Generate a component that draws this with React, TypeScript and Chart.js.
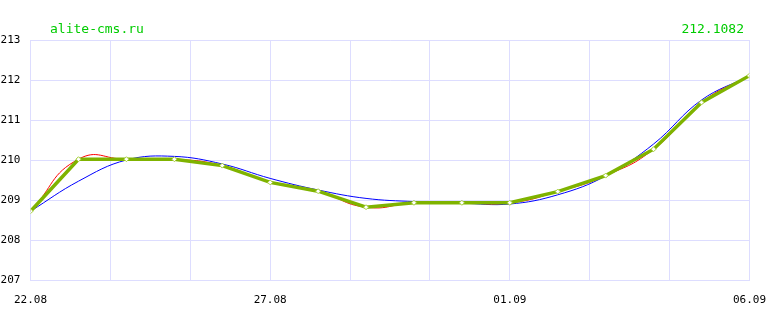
import React, { useEffect, useRef } from "react";
import { Chart, registerables } from "chart.js";

Chart.register(...registerables);

const dayLabels = ["22.08","23.08","24.08","25.08","26.08","27.08","28.08","29.08","30.08","31.08","01.09","02.09","03.09","04.09","05.09","06.09"];
const rateValues = [208.72, 210.02, 210.02, 210.02, 209.86, 209.44, 209.22, 208.82, 208.93, 208.93, 208.93, 209.21, 209.61, 210.27, 211.44, 212.1082];
const smoothValues = [208.72, 209.47, 210.0, 210.09, 209.9, 209.54, 209.25, 209.04, 208.96, 208.92, 208.9, 209.13, 209.6, 210.4, 211.5, 212.1];
const yTicks = [207, 208, 209, 210, 211, 212, 213];
const siteTitle = "alite-cms.ru";
const lastValue = "212.1082";

export default function App() {
  const ref = useRef<HTMLCanvasElement | null>(null);
  useEffect(() => {
    if (!ref.current) return;
    const pts = (vals: number[]) => vals.map((v, i) => ({ x: i, y: v }));
    const textPlugin = {
      id: "headerText",
      afterDraw(chart: any) {
        const ctx = chart.ctx;
        ctx.save();
        ctx.font = "13px 'DejaVu Sans Mono'";
        ctx.fillStyle = "#00cc00";
        ctx.textBaseline = "alphabetic";
        ctx.textAlign = "left";
        ctx.fillText(siteTitle, 50, 33);
        ctx.textAlign = "right";
        ctx.fillText(lastValue, 744, 33);
        ctx.restore();
      },
    };
    const chart = new Chart(ref.current, {
      type: "line",
      data: {
        datasets: [
          {
            label: "rate",
            data: pts(rateValues),
            borderColor: "#7fb300",
            borderWidth: 3.5,
            tension: 0,
            pointStyle: "rectRot",
            pointRadius: 2.5,
            pointBackgroundColor: "#ffffff",
            pointBorderColor: "#a8d040",
            pointBorderWidth: 1,
            order: 0,
          },
          {
            label: "spline",
            data: pts(rateValues),
            borderColor: "#ff0000",
            borderWidth: 1,
            tension: 0.5,
            pointRadius: 0,
            order: 1,
          },
          {
            label: "smooth",
            data: pts(smoothValues),
            borderColor: "#0000ff",
            borderWidth: 1,
            tension: 0.4,
            pointRadius: 0,
            order: 2,
          },
        ],
      },
      options: {
        animation: false,
        responsive: false,
        maintainAspectRatio: false,
        layout: { padding: { top: 40, right: 30, left: 0, bottom: 0 } },
        plugins: { legend: { display: false }, tooltip: { enabled: false } },
        scales: {
          x: {
            type: "linear",
            min: 0,
            max: 15,
            afterBuildTicks: (scale: any) => {
              const t = [];
              for (let i = 0; i <= 9; i++) t.push({ value: (i * 5) / 3 });
              scale.ticks = t;
            },
            afterFit: (scale: any) => {
              scale.height = 40;
            },
            grid: { color: "#ddddff", lineWidth: 1, drawTicks: false },
            border: { color: "#ddddff" },
            ticks: {
              autoSkip: false,
              maxRotation: 0,
              padding: 14,
              color: "#000000",
              font: { family: "'DejaVu Sans Mono'", size: 11 },
              callback: (_v: any, i: number) => (i % 3 === 0 ? dayLabels[i * 5 / 3] : ""),
            },
          },
          y: {
            min: 207,
            max: 213,
            afterBuildTicks: (scale: any) => {
              scale.ticks = yTicks.map((v) => ({ value: v }));
            },
            afterFit: (scale: any) => {
              scale.width = 30;
            },
            grid: { color: "#ddddff", lineWidth: 1, drawTicks: false },
            border: { color: "#ddddff" },
            ticks: {
              crossAlign: "far",
              padding: 0,
              color: "#000000",
              font: { family: "'DejaVu Sans Mono'", size: 11 },
            },
          },
        },
      },
      plugins: [textPlugin],
    } as any);
    return () => chart.destroy();
  }, []);
  return (
    <div style={{ position: "absolute", left: 0, top: 0, width: 780, height: 320, background: "#fff" }}>
      <canvas ref={ref} width={780} height={320} style={{ width: 780, height: 320 }} />
    </div>
  );
}
